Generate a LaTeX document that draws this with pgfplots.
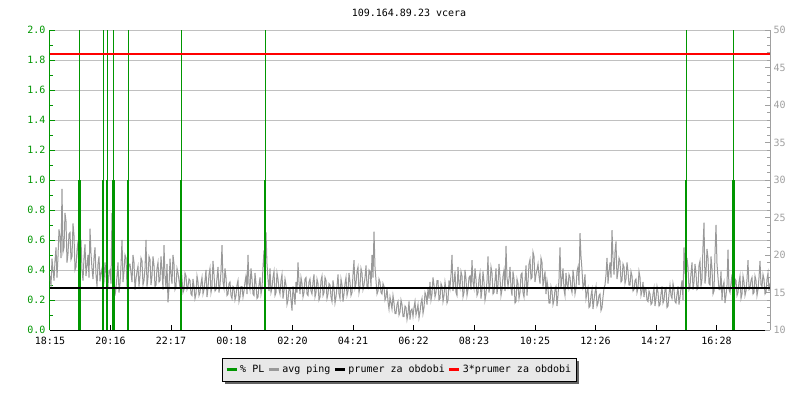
\documentclass[border=0pt]{standalone}
\usepackage{fontspec}
\setmainfont{DejaVu Sans Mono}
\usepackage{pgfplots}
\pgfplotsset{compat=1.18}
\pgfdeclarelayer{background}
\pgfsetlayers{background,main}
\definecolor{plgreen}{RGB}{0,150,0}
\definecolor{pinggray}{RGB}{153,153,153}
\definecolor{gridgray}{RGB}{192,192,192}
\definecolor{rlabel}{RGB}{160,160,160}
\definecolor{legfill}{RGB}{232,232,232}
\definecolor{shadowgray}{RGB}{100,100,100}
\pgfplotsset{
  base/.style={scale only axis, width=720pt, height=300pt, at={(0pt,0pt)}, anchor=south west,
    xmin=0, xmax=1440, clip=true,
    tick align=inside, major tick length=5pt, minor tick length=3pt,
    /pgf/number format/assume math mode=true,
    tick label style={font=\fontsize{10}{12}\selectfont}},
}
\begin{document}
\fontsize{10}{12}\selectfont
\begin{tikzpicture}
\useasboundingbox (-50pt,-70pt) rectangle (750pt,330pt);
\node[font=\fontsize{10}{12}\selectfont] at (359pt,317pt) {109.164.89.23 vcera};
% Axis A: left scale, grid, x axis
\begin{axis}[base, ymin=0, ymax=2,
  axis x line*=bottom, axis y line*=left,
  ytick={0,0.2,0.4,0.6,0.8,1.0,1.2,1.4,1.6,1.8,2.0},
  minor ytick={0.1,0.3,0.5,0.7,0.9,1.1,1.3,1.5,1.7,1.9},
  ymajorgrids, grid style={gridgray, line width=0.9pt},
  y axis line style={plgreen, line width=1pt},
  ytick style={plgreen, line width=1pt},
  yticklabel style={plgreen, xshift=-1pt, /pgf/number format/.cd, fixed, fixed zerofill, precision=1},
  x axis line style={black, line width=1pt},
  xtick style={black, line width=1pt},
  xticklabel style={yshift=-4pt},
  xtick={0,121,242,363,485,606,727,848,970,1091,1212,1333},
  xticklabels={18:15,20:16,22:17,00:18,02:20,04:21,06:22,08:23,10:25,12:26,14:27,16:28},
]
\addplot[draw=none, forget plot] coordinates {(0,0)(1440,0)};
\end{axis}
% Axis B: right scale, ping trace
\begin{axis}[base, ymin=10, ymax=50,
  axis y line*=right, hide x axis,
  ytick={10,15,20,25,30,35,40,45,50}, minor y tick num=4,
  y axis line style={rlabel, line width=1pt},
  ytick style={rlabel, line width=1pt},
  yticklabel style={rlabel},
]
\addplot[pinggray, line width=1pt, no marks] coordinates {
(0,17.2)(2,15.8)(4,19.5)(6,18.0)(8,16.6)(10,19.2)(12,21.0)(14,17.0)(16,19.8)(18,23.4)(20,22.5)(22,19.6)(24,28.8)(26,20.4)(28,21.0)(30,25.6)(32,24.5)(34,19.0)(36,20.2)(38,22.8)
(40,23.0)(42,19.4)(44,19.8)(46,24.2)(48,22.6)(50,18.0)(52,18.4)(54,20.6)(56,21.8)(58,17.6)(60,19.0)(62,22.0)(64,18.0)(66,16.6)(68,19.6)(70,21.4)(72,17.2)(74,18.6)(76,20.0)(78,17.0)
(80,23.5)(82,20.2)(84,18.2)(86,16.8)(88,19.6)(90,21.0)(92,17.4)(94,15.8)(96,18.8)(98,19.8)(100,16.5)(102,17.6)(104,18.2)(106,15.4)(108,16.4)(110,19.0)(112,17.6)(114,15.2)(116,15.8)(118,17.8)
(120,18.0)(122,16.2)(124,25.6)(126,19.4)(128,17.0)(130,14.6)(132,15.6)(134,17.2)(136,19.0)(138,15.0)(140,16.2)(142,18.6)(144,22.0)(146,16.4)(148,17.8)(150,20.0)(152,19.6)(154,15.8)(156,17.0)(158,18.8)
(160,18.8)(162,17.6)(164,16.4)(166,20.0)(168,19.0)(170,15.4)(172,16.8)(174,17.8)(176,18.5)(178,15.8)(180,17.2)(182,19.6)(184,19.2)(186,16.0)(188,16.6)(190,18.2)(192,22.0)(194,15.8)(196,17.0)(198,19.8)
(200,19.4)(202,16.0)(204,17.2)(206,19.8)(208,18.6)(210,15.8)(212,16.0)(214,18.2)(216,19.0)(218,16.4)(220,16.6)(222,19.8)(224,18.0)(226,15.4)(228,21.3)(230,17.2)(232,15.6)(234,18.8)(236,13.7)(238,15.6)
(240,19.5)(242,17.4)(244,16.2)(246,20.0)(248,18.8)(250,15.4)(252,15.8)(254,18.2)(256,17.6)(258,16.6)(260,15.6)(262,18.8)(264,16.8)(266,15.0)(268,15.4)(270,17.6)(272,17.2)(274,15.4)(276,15.8)(278,16.8)
(280,16.6)(282,14.8)(284,14.6)(286,16.8)(288,15.8)(290,14.2)(292,14.8)(294,17.2)(296,16.4)(298,14.6)(300,15.0)(302,16.2)(304,17.0)(306,14.8)(308,15.4)(310,16.6)(312,18.0)(314,14.4)(316,15.6)(318,17.4)
(320,18.2)(322,15.0)(324,15.8)(326,19.2)(328,17.4)(330,15.2)(332,15.4)(334,17.0)(336,18.4)(338,15.0)(340,16.0)(342,17.8)(344,21.3)(346,16.4)(348,15.6)(350,18.2)(352,17.0)(354,14.6)(356,14.8)(358,16.2)
(360,16.4)(362,14.6)(364,14.2)(366,15.8)(368,15.6)(370,14.0)(372,14.6)(374,16.0)(376,16.6)(378,13.8)(380,14.4)(382,15.8)(384,15.8)(386,14.4)(388,15.2)(390,16.4)(392,17.2)(394,14.8)(396,20.0)(398,16.2)
(400,15.4)(402,18.2)(404,16.8)(406,14.8)(408,14.6)(410,17.6)(412,16.2)(414,14.2)(416,14.4)(418,16.0)(420,17.0)(422,14.8)(424,15.6)(426,18.4)(428,20.6)(430,16.2)(432,23.0)(434,18.8)(436,16.8)(438,15.2)
(440,18.2)(442,15.0)(444,15.6)(446,17.0)(448,17.8)(450,14.6)(452,15.0)(454,17.6)(456,16.8)(458,15.4)(460,14.8)(462,16.6)(464,17.4)(466,14.2)(468,15.2)(470,16.8)(472,16.0)(474,13.4)(476,14.0)(478,15.6)
(480,15.6)(482,14.0)(484,12.6)(486,15.8)(488,14.8)(490,13.4)(492,16.4)(494,15.0)(496,19.0)(498,16.4)(500,14.8)(502,17.0)(504,16.2)(506,14.4)(508,15.0)(510,16.8)(512,17.0)(514,14.8)(516,14.6)(518,16.4)
(520,16.8)(522,15.2)(524,14.8)(526,16.4)(528,17.4)(530,14.4)(532,15.0)(534,16.8)(536,16.2)(538,14.0)(540,14.4)(542,16.6)(544,17.2)(546,14.6)(548,15.0)(550,17.0)(552,16.6)(554,14.2)(556,14.8)(558,16.2)
(560,16.0)(562,14.4)(564,13.8)(566,16.6)(568,15.6)(570,13.6)(572,14.4)(574,15.8)(576,17.4)(578,14.8)(580,14.2)(582,16.8)(584,16.0)(586,13.8)(588,14.8)(590,16.2)(592,17.0)(594,14.6)(596,15.2)(598,17.6)
(600,16.4)(602,14.6)(604,15.0)(606,17.4)(608,19.3)(610,15.6)(612,16.2)(614,17.8)(616,18.4)(618,15.0)(620,15.8)(622,18.2)(624,17.6)(626,15.4)(628,16.0)(630,17.0)(632,18.6)(634,15.8)(636,15.6)(638,18.0)
(640,17.8)(642,15.8)(644,20.0)(646,17.0)(648,23.1)(650,18.4)(652,16.6)(654,14.8)(656,15.2)(658,16.8)(660,16.4)(662,15.0)(664,14.8)(666,16.2)(668,15.8)(670,14.0)(672,14.4)(674,15.6)(676,13.8)(678,12.8)
(680,14.4)(682,13.6)(684,12.8)(686,14.6)(688,13.6)(690,12.2)(692,12.2)(694,13.4)(696,13.8)(698,12.0)(700,12.4)(702,14.0)(704,13.4)(706,11.8)(708,11.8)(710,13.2)(712,13.0)(714,11.4)(716,12.2)(718,13.8)
(720,11.4)(722,12.6)(724,12.8)(726,11.8)(728,13.0)(730,13.8)(732,12.0)(734,12.6)(736,13.4)(738,11.6)(740,12.4)(742,13.6)(744,14.2)(746,12.2)(748,13.0)(750,15.0)(752,14.6)(754,13.4)(756,15.6)(758,14.2)
(760,16.4)(762,14.0)(764,14.8)(766,17.0)(768,16.0)(770,14.4)(772,15.0)(774,16.6)(776,16.6)(778,14.0)(780,14.2)(782,16.2)(784,15.8)(786,13.8)(788,14.6)(790,16.4)(792,15.4)(794,13.6)(796,14.0)(798,16.6)
(800,15.6)(802,17.4)(804,20.0)(806,15.2)(808,16.4)(810,17.8)(812,15.0)(814,14.6)(816,18.4)(818,16.2)(820,15.6)(822,17.8)(824,17.2)(826,14.4)(828,15.0)(830,18.0)(832,16.8)(834,14.6)(836,15.4)(838,17.0)
(840,17.2)(842,15.4)(844,19.3)(846,16.4)(848,15.6)(850,18.2)(852,16.8)(854,14.6)(856,15.0)(858,16.8)(860,17.6)(862,14.2)(864,15.4)(866,17.8)(868,16.4)(870,14.0)(872,14.8)(874,16.6)(876,19.8)(878,15.0)
(880,16.0)(882,18.4)(884,17.6)(886,14.8)(888,15.0)(890,16.6)(892,18.2)(894,14.8)(896,16.0)(898,18.8)(900,17.0)(902,14.6)(904,15.4)(906,17.2)(908,18.0)(910,15.2)(912,21.2)(914,17.0)(916,15.8)(918,16.8)
(920,18.4)(922,15.6)(924,14.6)(926,17.8)(928,16.8)(930,13.6)(932,13.8)(934,16.8)(936,16.2)(938,14.2)(940,15.0)(942,17.4)(944,17.6)(946,15.0)(948,14.4)(950,16.6)(952,18.6)(954,14.6)(956,16.4)(958,18.8)
(960,19.4)(962,16.8)(964,17.0)(966,20.4)(968,19.8)(970,16.4)(972,17.4)(974,18.0)(976,18.8)(978,17.2)(980,16.2)(982,19.6)(984,19.0)(986,15.8)(988,16.8)(990,17.8)(992,14.8)(994,16.6)(996,15.6)(998,13.6)
(1000,13.6)(1002,15.8)(1004,15.2)(1006,13.4)(1008,14.0)(1010,15.4)(1012,15.8)(1014,13.2)(1016,14.6)(1018,16.8)(1020,21.0)(1022,15.6)(1024,16.8)(1026,18.2)(1028,15.4)(1030,14.6)(1032,17.6)(1034,16.0)(1036,15.6)(1038,17.4)
(1040,17.0)(1042,15.6)(1044,15.0)(1046,18.0)(1048,16.8)(1050,14.8)(1052,15.6)(1054,17.8)(1056,18.4)(1058,16.0)(1060,22.9)(1062,19.8)(1064,18.0)(1066,15.6)(1068,16.0)(1070,17.4)(1072,14.2)(1074,15.0)(1076,15.6)(1078,13.0)
(1080,13.2)(1082,14.6)(1084,15.4)(1086,12.8)(1088,14.0)(1090,15.0)(1092,15.8)(1094,13.2)(1096,13.6)(1098,14.6)(1100,14.8)(1102,12.6)(1104,13.0)(1106,14.4)(1108,15.6)(1110,16.0)(1112,17.4)(1114,19.6)(1116,16.2)(1118,17.8)
(1120,19.0)(1122,17.0)(1124,23.3)(1126,19.6)(1128,17.4)(1130,20.4)(1132,21.8)(1134,16.8)(1136,17.8)(1138,19.6)(1140,19.2)(1142,16.4)(1144,16.6)(1146,18.8)(1148,18.4)(1150,16.2)(1152,16.8)(1154,19.0)(1156,17.8)(1158,16.0)
(1160,16.0)(1162,17.8)(1164,17.2)(1166,15.2)(1168,15.4)(1170,16.6)(1172,16.8)(1174,15.0)(1176,15.6)(1178,17.8)(1180,17.0)(1182,14.6)(1184,15.2)(1186,16.4)(1188,14.4)(1190,15.6)(1192,15.4)(1194,14.0)(1196,13.8)(1198,15.2)
(1200,14.8)(1202,13.4)(1204,13.6)(1206,14.8)(1208,15.6)(1210,13.2)(1212,14.2)(1214,15.8)(1216,15.0)(1218,13.2)(1220,13.4)(1222,14.8)(1224,15.8)(1226,13.6)(1228,14.0)(1230,15.4)(1232,15.6)(1234,13.0)(1236,13.2)(1238,14.8)
(1240,16.0)(1242,14.6)(1244,14.2)(1246,16.2)(1248,15.4)(1250,13.8)(1252,13.6)(1254,14.8)(1256,15.8)(1258,13.4)(1260,14.4)(1262,15.6)(1264,16.6)(1266,14.0)(1268,21.0)(1270,18.0)(1272,16.0)(1274,19.6)(1276,18.4)(1278,15.4)
(1280,15.8)(1282,17.6)(1284,19.0)(1286,15.4)(1288,16.4)(1290,18.8)(1292,17.6)(1294,15.4)(1296,15.6)(1298,18.6)(1300,19.2)(1302,15.8)(1304,16.8)(1306,21.2)(1308,24.3)(1310,16.2)(1312,17.6)(1314,20.8)(1316,19.6)(1318,16.2)
(1320,16.0)(1322,19.8)(1324,18.2)(1326,14.8)(1328,15.2)(1330,20.2)(1332,24.0)(1334,18.8)(1336,17.0)(1338,15.4)(1340,15.4)(1342,17.8)(1344,14.0)(1346,15.8)(1348,16.4)(1350,13.6)(1352,14.6)(1354,16.0)(1356,20.7)(1358,15.4)
(1360,15.0)(1362,16.2)(1364,17.4)(1366,14.4)(1368,13.8)(1370,16.8)(1372,16.6)(1374,14.6)(1376,15.0)(1378,16.4)(1380,17.2)(1382,14.2)(1384,14.8)(1386,17.2)(1388,16.4)(1390,14.6)(1392,15.2)(1394,16.8)(1396,19.3)(1398,15.4)
(1400,15.6)(1402,16.6)(1404,17.0)(1406,14.8)(1408,15.0)(1410,17.2)(1412,16.6)(1414,14.6)(1416,15.4)(1418,17.0)(1420,19.2)(1422,16.0)(1424,15.8)(1426,17.4)(1428,16.8)(1430,14.8)(1432,15.0)(1434,16.8)(1436,17.6)(1438,15.2)
(1440,16.2)
};
\end{axis}
% Axis C: left scale, packet loss spikes
\begin{axis}[base, ymin=0, ymax=2, hide axis]
\addplot[plgreen, line width=1pt, ycomb, no marks] coordinates {
(59,2)(106,2)(114,2)(127,2)(156,2)(262,2)(430,2)(1272,2)(1367,2)};
\addplot[plgreen, line width=2.6pt, ycomb, no marks] coordinates {
(59,1)(106,1)(114,1)(127,1)(156,1)(262,1)(430,1)(1272,1)(1367,1)};
\end{axis}
% Axis D: right scale, mean lines and legend
\begin{axis}[base, ymin=10, ymax=50, hide axis,
  legend columns=4,
  legend style={name=leg, at={(0.485,-0.093)}, anchor=north, fill=legfill, draw=black,
    font=\fontsize{10}{12}\selectfont, inner xsep=3pt, inner ysep=5pt,
    /tikz/every odd column/.append style={column sep=0pt},
    /tikz/every even column/.append style={column sep=1pt}},
  legend image code/.code={\draw[#1] (0pt,0pt) -- (10pt,0pt);},
]
\addlegendimage{plgreen, line width=3pt}
\addlegendentry{\% PL}
\addlegendimage{pinggray, line width=3pt}
\addlegendentry{avg ping}
\addlegendimage{black, line width=3pt}
\addlegendentry{prumer za obdobi}
\addlegendimage{red, line width=3pt}
\addlegendentry{3*prumer za obdobi}
\addplot[black, line width=2pt, no marks, forget plot] coordinates {(0,15.6)(1440,15.6)};
\addplot[red, line width=1.5pt, no marks, forget plot] coordinates {(0,46.8)(1440,46.8)};
\end{axis}
\begin{pgfonlayer}{background}
\fill[shadowgray] ([xshift=3pt,yshift=-3pt]leg.south west) rectangle ([xshift=3pt,yshift=-3pt]leg.north east);
\end{pgfonlayer}
\end{tikzpicture}
\end{document}
